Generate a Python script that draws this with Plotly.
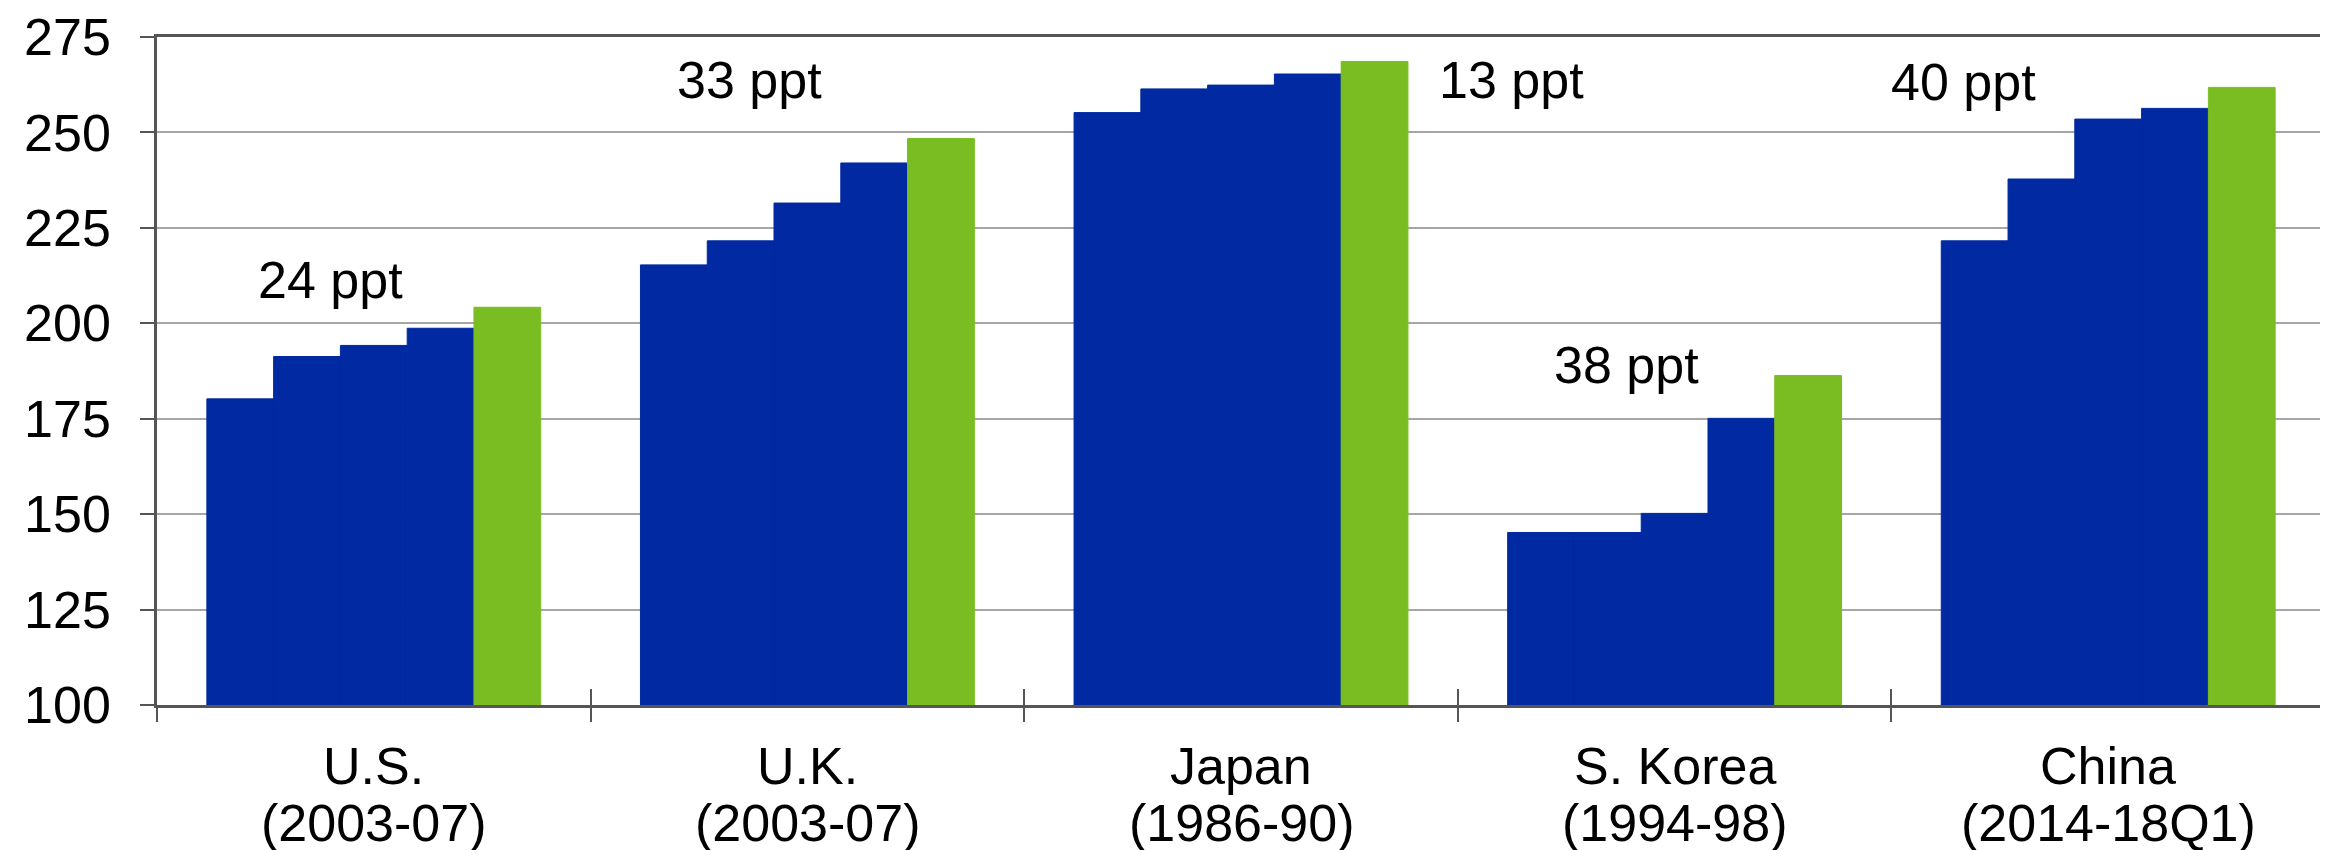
import plotly.graph_objects as go

countries = ["U.S.", "U.K.", "Japan", "S. Korea", "China"]
periods = ["(2003-07)", "(2003-07)", "(1986-90)", "(1994-98)", "(2014-18Q1)"]

# five yearly values per episode, the last one is the peak year (green)
us = [180.2, 191.3, 194.2, 198.7, 204.2]
uk = [215.3, 221.6, 231.5, 242.0, 248.4]
japan = [255.2, 261.4, 262.4, 265.3, 268.6]
korea = [145.2, 145.2, 150.2, 175.1, 186.3]
china = [221.6, 237.8, 253.5, 256.3, 261.8]

ppt_labels = ["24 ppt", "33 ppt", "13 ppt", "38 ppt", "40 ppt"]
ppt_x = [-0.1, 0.866, 2.623, 2.889, 3.667]
ppt_y = [211.3, 263.7, 263.7, 189.0, 263.1]

yticks = [100, 125, 150, 175, 200, 225, 250, 275]

BLUE = "#0029A2"
GREEN = "#7ABD22"
AXIS = "#555555"
FONT = "Liberation Sans, Arial, sans-serif"

series = [us, uk, japan, korea, china]

fig = go.Figure()
for i in range(5):
    col = GREEN if i == 4 else BLUE
    fig.add_trace(go.Bar(
        x=countries,
        y=[s[i] - 100 for s in series],
        base=100,
        marker=dict(color=col, line=dict(width=1, color=col)),
        showlegend=False,
    ))

annotations = []
for txt, x, y in zip(ppt_labels, ppt_x, ppt_y):
    annotations.append(dict(x=x, y=y, xref="x", yref="y", text=txt, showarrow=False,
                            xanchor="center", yanchor="middle",
                            font=dict(size=52, color="black", family=FONT)))
for i, (c, p) in enumerate(zip(countries, periods)):
    annotations.append(dict(x=i, y=0, xref="x2", yref="paper", text=c, showarrow=False,
                            xanchor="center", yanchor="top", yshift=-30,
                            font=dict(size=52, color="black", family=FONT)))
    annotations.append(dict(x=i, y=0, xref="x2", yref="paper", text=p, showarrow=False,
                            xanchor="center", yanchor="top", yshift=-87,
                            font=dict(size=52, color="black", family=FONT)))

fig.update_layout(
    width=2328, height=850,
    margin=dict(l=149, r=11, t=29, b=153),
    paper_bgcolor="white", plot_bgcolor="white",
    barmode="group", bargap=0.23, bargroupgap=0,
    font=dict(family=FONT, size=52, color="black"),
    annotations=annotations,
    xaxis=dict(
        type="category", showticklabels=False, automargin=False,
        tickson="boundaries", ticks="outside", ticklen=14, tickwidth=2, tickcolor=AXIS,
        showline=True, linecolor=AXIS, linewidth=2.5, mirror=True,
        showgrid=False, zeroline=False,
    ),
    yaxis=dict(
        range=[100, 275], tickvals=yticks, ticks="outside", ticklen=14, tickwidth=2,
        tickcolor=AXIS, ticklabelstandoff=19, automargin=False,
        tickfont=dict(size=52, color="black", family=FONT),
        showline=True, linecolor=AXIS, linewidth=2.5, mirror=True,
        showgrid=True, gridcolor="#A6A6A6", gridwidth=2, zeroline=False,
    ),
    xaxis2=dict(
        overlaying="x", anchor="y", type="linear", range=[-0.5, 4.5], automargin=False,
        tickvals=[-0.5, 0.5, 1.5, 2.5, 3.5, 4.5], ticks="inside", ticklen=16, tickwidth=2,
        tickcolor=AXIS, showticklabels=False, showline=False, showgrid=False, zeroline=False,
    ),
    yaxis2=dict(
        overlaying="y", anchor="x", side="left", range=[100, 275], automargin=False,
        tickvals=yticks, ticks="inside", ticklen=17, tickwidth=2, tickcolor=AXIS,
        showticklabels=False, showline=False, showgrid=False, zeroline=False,
    ),
)

fig.write_html("out.html")
